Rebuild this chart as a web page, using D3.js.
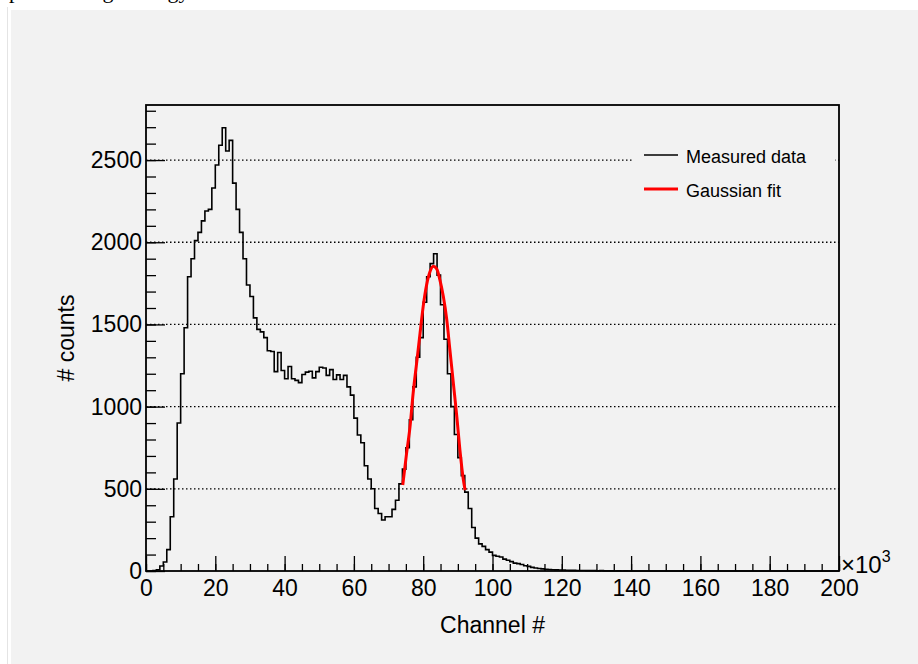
<!DOCTYPE html>
<html>
<head>
<meta charset="utf-8">
<script src="https://cdn.jsdelivr.net/npm/d3@7"></script>
<style>
  body { margin: 0; background: #ffffff; }
  svg { display: block; }
  text { font-family: "Liberation Sans", Arial, sans-serif; fill: #000; }
</style>
</head>
<body>
<svg id="drawing_region"></svg>
<script>
// histogram counts, one bin per 1000 channels (0 .. 200k)
const counts = [
  0, 0, 2, 8, 30, 55, 130, 330, 560, 900,
  1200, 1480, 1790, 1900, 2010, 2060, 2130, 2190, 2200, 2330,
  2470, 2590, 2697, 2555, 2620, 2360, 2200, 2060, 1900, 1740,
  1670, 1540, 1470, 1455, 1420, 1340, 1335, 1213, 1329, 1220,
  1170, 1244, 1170, 1160, 1146, 1195, 1210, 1215, 1175, 1213,
  1240, 1235, 1190, 1225, 1165, 1193, 1165, 1190, 1120, 1070,
  930, 827, 780, 640, 560, 500, 380, 350, 310, 330,
  330, 375, 430, 530, 620, 750, 920, 1120, 1300, 1420,
  1635, 1790, 1870, 1930, 1800, 1620, 1410, 1200, 1000, 830,
  690, 580, 480, 380, 265, 200, 165, 150, 130, 115,
  95, 90, 85, 72, 65, 57, 48, 45, 40, 32,
  28, 22, 18, 15, 13, 11, 9, 8, 7, 6,
  6, 5, 4, 4, 3, 3, 3, 2, 2, 2,
  1, 2, 1, 1, 1, 0, 1, 0, 1, 0
];
const nBins = 200;
const binWidth = 1; // in units of 10^3 channels

// gaussian fit curve (channel x10^3, counts)
const fitX = [74.1, 75.2, 76.2, 77.1, 78.1, 79.1, 80.0, 81.0, 82.0, 82.9,
              83.9, 84.8, 85.8, 86.8, 87.7, 88.7, 89.7, 90.6, 91.6, 92.1];
const fitY = [523, 716, 878, 1082, 1265, 1448, 1610, 1742, 1823, 1854,
              1838, 1773, 1671, 1529, 1346, 1143, 939, 736, 553, 492];

const xTicks = [0, 20, 40, 60, 80, 100, 120, 140, 160, 180, 200];
const yTicks = [0, 500, 1000, 1500, 2000, 2500];
const legendLabels = ['Measured data', 'Gaussian fit'];
const legendColors = ['#000000', '#ff0000'];

const W = 918, H = 664;
const frame = {left: 146, right: 839, top: 105, bottom: 571};

const svg = d3.select('#drawing_region')
  .attr('width', W)
  .attr('height', H);

// cropped line of the surrounding document
svg.append('text')
  .attr('x', 9).attr('y', -2.5)
  .style('font-family', '"Liberation Serif", "Times New Roman", serif')
  .style('font-size', '22px')
  .text('peak through energy');

svg.append('line')
  .attr('x1', 7.5).attr('x2', 7.5).attr('y1', 7).attr('y2', H)
  .attr('stroke', '#e4e4e4');

svg.append('rect')
  .attr('x', 11).attr('y', 10)
  .attr('width', W - 11).attr('height', H - 10)
  .attr('fill', '#f2f2f2');

const xscale = d3.scaleLinear().domain([0, 200]).range([frame.left, frame.right]);
const yscale = d3.scaleLinear().domain([0, 2835]).range([frame.bottom, frame.top]);

// dotted horizontal grid
svg.append('g')
  .selectAll('line')
  .data(yTicks.filter(d => d > 0))
  .enter()
  .append('line')
  .attr('x1', frame.left).attr('x2', frame.right)
  .attr('y1', d => yscale(d)).attr('y2', d => yscale(d))
  .attr('stroke', '#000')
  .attr('stroke-width', 1.3)
  .attr('stroke-dasharray', '1.5,2.5');

// histogram as steps
const binData = d3.range(nBins).map(i => ({x: i * binWidth, y: counts[i] || 0}));
binData.push({x: nBins * binWidth, y: binData[nBins - 1].y});

const step = d3.line()
  .x(d => xscale(d.x))
  .y(d => yscale(d.y))
  .curve(d3.curveStepAfter);

svg.append('path')
  .attr('d', step(binData))
  .attr('fill', 'none')
  .attr('stroke', '#000')
  .attr('stroke-width', 1.6);

// fit
const fitLine = d3.line()
  .x((d, i) => xscale(fitX[i]))
  .y(d => yscale(d))
  .curve(d3.curveMonotoneX);

svg.append('path')
  .attr('d', fitLine(fitY))
  .attr('fill', 'none')
  .attr('stroke', '#ff0000')
  .attr('stroke-width', 3);

// axes (ticks point into the frame)
const xaxis_group = svg.append('g')
  .attr('transform', `translate(0, ${frame.bottom})`)
  .call(d3.axisBottom(xscale).tickValues(xTicks).tickSize(-15).tickPadding(6).tickFormat(d3.format('d')));
svg.append('g')
  .attr('transform', `translate(0, ${frame.bottom})`)
  .call(d3.axisBottom(xscale).tickValues(d3.range(0, 201, 5)).tickSize(-7).tickFormat(''));

const yaxis_group = svg.append('g')
  .attr('transform', `translate(${frame.left}, 0)`)
  .call(d3.axisLeft(yscale).tickValues(yTicks).tickSize(-19).tickPadding(4).tickFormat(d3.format('d')));
svg.append('g')
  .attr('transform', `translate(${frame.left}, 0)`)
  .call(d3.axisLeft(yscale).tickValues(d3.range(0, 2801, 100)).tickSize(-10).tickFormat(''));

svg.selectAll('.domain').remove();
svg.selectAll('.tick line').attr('stroke', '#000').attr('stroke-width', 1.3);
svg.selectAll('.tick text')
  .style('font-family', '"Liberation Sans", Arial, sans-serif')
  .style('font-size', '23px')
  .attr('fill', '#000');
xaxis_group.selectAll('.tick text').attr('dy', '0.82em');

// frame
svg.append('rect')
  .attr('x', frame.left).attr('y', frame.top)
  .attr('width', frame.right - frame.left).attr('height', frame.bottom - frame.top)
  .attr('fill', 'none')
  .attr('stroke', '#000')
  .attr('stroke-width', 1.8);

// x10^3
const mult = svg.append('text')
  .attr('x', frame.right + 2).attr('y', frame.bottom + 2)
  .style('font-size', '24px');
mult.append('tspan').text('\u00d710');
mult.append('tspan').attr('dy', -11).style('font-size', '16px').text('3');

// axis titles
svg.append('text')
  .attr('x', (frame.left + frame.right) / 2).attr('y', 633)
  .attr('text-anchor', 'middle')
  .style('font-size', '23px')
  .text('Channel #');

svg.append('text')
  .attr('transform', `translate(74, ${(frame.top + frame.bottom) / 2}) rotate(-90)`)
  .attr('text-anchor', 'middle')
  .style('font-size', '23px')
  .text('# counts');

// legend
const legend = svg.append('g');
legend.append('rect')
  .attr('x', 633).attr('y', 130).attr('width', 202).attr('height', 80)
  .attr('fill', '#f2f2f2');
legendLabels.forEach((label, i) => {
  const y = 155 + i * 34;
  legend.append('line')
    .attr('x1', 644).attr('x2', 678).attr('y1', y).attr('y2', y)
    .attr('stroke', legendColors[i])
    .attr('stroke-width', i === 0 ? 1.6 : 3);
  legend.append('text')
    .attr('x', 686).attr('y', y + 8)
    .style('font-size', '18px')
    .text(label);
});
</script>
</body>
</html>
